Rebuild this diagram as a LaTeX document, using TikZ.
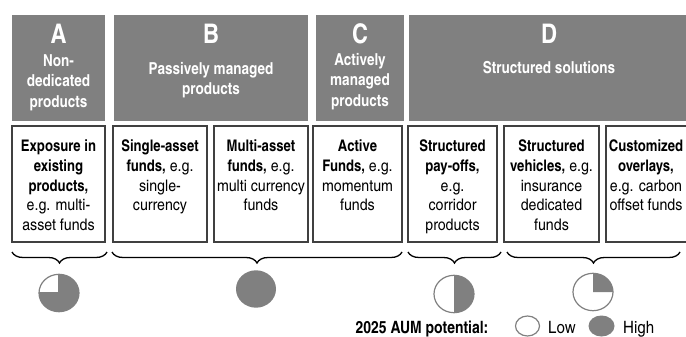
\documentclass[tikz,border=0pt]{standalone}
\usepackage{fontspec}
\setmainfont{TeX Gyre Heros Cn}[UprightFeatures={FakeStretch=1.08}]
\usetikzlibrary{decorations.pathreplacing}
\definecolor{hdrgray}{HTML}{808080}
\definecolor{bordgray}{HTML}{404040}
\begin{document}
\begin{tikzpicture}[x=1pt,y=-1pt,
  hdrbox/.style={fill=hdrgray, draw=none, inner sep=0, minimum height=106pt},
  letter/.style={text=white, font=\fontsize{27}{29}\selectfont\bfseries, inner sep=0, anchor=base},
  hdrtext/.style={text=white, font=\fontsize{16.5}{20.5}\selectfont\bfseries, inner sep=0, align=center, anchor=north},
  cbox/.style={draw=bordgray, line width=1.4pt, inner sep=0, minimum height=116pt},
  ctext/.style={font=\fontsize{16}{19.6}\selectfont, inner sep=0, align=center, anchor=north},
  brc/.style={decorate, decoration={brace, mirror, amplitude=11pt}, line width=1.3pt},
  pieline/.style={draw=hdrgray, line width=1.2pt},
  legtext/.style={font=\fontsize{17}{19}\selectfont, inner sep=0}
]
\useasboundingbox (0,0) rectangle (686,337);
% header boxes
\node[hdrbox, minimum width=93pt] (hA) at (58.5,68) {};
\node[hdrbox, minimum width=194pt] (hB) at (211,68) {};
\node[hdrbox, minimum width=88pt] (hC) at (360,68) {};
\node[hdrbox, minimum width=280pt] (hD) at (549,68) {};
\node[letter] (lA) at (58.5,43.5) {A};
\node[letter] (lB) at (211,43.5) {B};
\node[letter] (lC) at (360,43.5) {C};
\node[letter] (lD) at (549,43.5) {D};
\node[hdrtext] (tA) at (58.5,54) {Non-\\dedicated\\products};
\node[hdrtext] (tB) at (211,62) {Passively managed\\products};
\node[hdrtext] (tC) at (360,53) {Actively\\managed\\products};
\node[hdrtext] (tD) at (549,61.5) {Structured solutions};
% content boxes
\node[cbox, minimum width=93pt] (b1) at (58.5,184) {};
\node[cbox, minimum width=94pt] (b2) at (160,184) {};
\node[cbox, minimum width=94pt] (b3) at (261,184) {};
\node[cbox, minimum width=89pt] (b4) at (357.5,184) {};
\node[cbox, minimum width=89pt] (b5) at (452.5,184) {};
\node[cbox, minimum width=95pt] (b6) at (551.5,184) {};
\node[cbox, minimum width=86pt] (b7) at (649,184) {};
\node[ctext] (c1) at (58.5,140) {\textbf{Exposure in}\\\textbf{existing}\\\textbf{products,}\\e.g. multi-\\asset funds};
\node[ctext] (c2) at (160,140) {\textbf{Single-asset}\\\textbf{funds,} e.g.\\single-\\currency};
\node[ctext] (c3) at (261,140) {\textbf{Multi-asset}\\\textbf{funds,} e.g.\\multi currency\\funds};
\node[ctext] (c4) at (357.5,140) {\textbf{Active}\\\textbf{Funds,} e.g.\\momentum\\funds};
\node[ctext] (c5) at (452.5,140) {\textbf{Structured}\\\textbf{pay-offs,}\\e.g.\\corridor\\products};
\node[ctext] (c6) at (551.5,140) {\textbf{Structured}\\\textbf{vehicles,} e.g.\\insurance\\dedicated\\funds};
\node[ctext] (c7) at (646,140) {\textbf{Customized}\\\textbf{overlays,}\\e.g. carbon\\offset funds};
% braces
\draw[brc] (12,252) -- (107,252);
\draw[brc] (112,252) -- (402,252);
\draw[brc] (408,252) -- (501,252);
\draw[brc] (507,252) -- (680,252);
% pies
\begin{scope}[shift={(59,293)}, y=1pt]
  \fill[hdrgray] (0,0) ellipse [x radius=20, y radius=18.7];
  \fill[white] (0,0) -- (-20,0) arc [start angle=180, end angle=90, x radius=20, y radius=18.7] -- cycle;
  \draw[pieline] (0,0) -- (-20,0) (0,0) -- (0,18.7);
  \draw[pieline] (0,0) ellipse [x radius=20, y radius=18.7];
\end{scope}
\begin{scope}[shift={(256,289)}, y=1pt]
  \fill[hdrgray] (0,0) ellipse [x radius=20, y radius=18.7];
\end{scope}
\begin{scope}[shift={(454,294)}, y=1pt]
  \fill[white] (0,0) ellipse [x radius=20, y radius=18.7];
  \fill[hdrgray] (0,-18.7) arc [start angle=-90, end angle=90, x radius=20, y radius=18.7] -- cycle;
  \draw[pieline] (0,0) ellipse [x radius=20, y radius=18.7];
\end{scope}
\begin{scope}[shift={(593,292)}, y=1pt]
  \fill[white] (0,0) ellipse [x radius=20, y radius=18.7];
  \fill[hdrgray] (0,0) -- (20,0) arc [start angle=0, end angle=90, x radius=20, y radius=18.7] -- cycle;
  \draw[pieline] (0,0) ellipse [x radius=20, y radius=18.7];
\end{scope}
% legend
\node[legtext, font=\fontsize{17}{19}\selectfont\bfseries, anchor=base] (lg) at (422,333) {2025 AUM potential:};
\draw[pieline] (527.5,326) ellipse [x radius=12, y radius=10];
\node[legtext, anchor=base west] (lo) at (548,333) {Low};
\fill[hdrgray] (601.5,326) ellipse [x radius=13, y radius=10.5];
\node[legtext, anchor=base west] (hi) at (623,333) {High};
\end{tikzpicture}
\end{document}
